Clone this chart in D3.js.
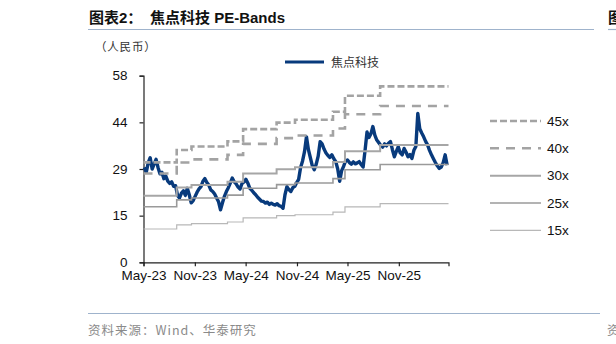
<!DOCTYPE html>
<html><head><meta charset="utf-8">
<script src="https://cdn.jsdelivr.net/npm/d3@7"></script>
<style>body{margin:0;background:#fff} svg{display:block}</style>
</head><body><svg id="c" width="616" height="344"></svg>
<script>
// ---------- data ----------
const priceStart = "2023-05-04"; // weekly closes from this date
const priceValues = [
29.5,28.0,31.0,32.5,29.0,30.5,32.0,29.5,27.5,28.0,26.0,26.8,25.2,24.5,25.0,23.6,23.8,20.8,20.0,21.5,
22.2,20.8,23.0,21.0,18.5,19.2,20.5,21.8,22.8,23.5,25.2,26.0,24.8,24.0,22.5,22.0,21.2,20.0,18.8,16.3,
18.5,20.5,22.0,23.2,24.6,26.2,25.0,24.4,23.4,22.8,24.5,25.0,25.8,24.6,23.0,22.4,21.6,21.0,20.2,19.6,
19.0,18.9,18.4,18.7,18.0,18.4,18.0,17.8,18.2,17.6,17.4,16.8,21.0,23.5,22.6,22.0,23.2,23.6,24.8,25.8,
29.5,31.5,34.4,39.0,35.0,32.5,30.0,28.8,30.5,33.0,37.5,36.8,35.2,34.0,33.2,32.6,33.4,32.2,31.3,29.0,
25.2,28.5,29.8,31.5,31.8,31.0,30.5,31.2,30.6,30.9,31.3,30.4,29.6,34.8,40.5,38.8,40.0,42.2,39.5,38.0,
37.2,36.4,35.8,36.8,36.2,37.0,37.5,35.0,32.8,34.5,35.9,34.0,33.4,35.4,34.2,32.8,33.5,32.3,34.8,36.0,
46.3,41.5,40.2,39.0,37.6,36.5,34.8,33.4,32.2,31.0,30.0,29.2,29.6,31.0,33.4,30.2
];
const bandStarts = ["2023-05-01","2023-08-28","2023-10-20","2024-02-26","2024-04-22","2024-08-20","2024-10-25","2025-03-10","2025-04-22","2025-08-26"];
const bandEnd = "2026-04-28";
const band45 = [31.05,34.92,36.0,37.58,41.4,43.43,44.33,46.8,51.75,54.68];
const band40 = [27.6,31.04,32.0,33.4,36.8,38.6,39.4,41.6,46.0,48.6];
const band30 = [20.7,23.28,24.0,25.05,27.6,28.95,29.55,31.2,34.5,36.45];
const band25 = [17.25,19.4,20.0,20.88,23.0,24.13,24.63,26.0,28.75,30.38];
const band15 = [10.35,11.64,12.0,12.53,13.8,14.48,14.78,15.6,17.25,18.23];
const bandLabels = ["45x","40x","30x","25x","15x"];
const seriesName = "焦点科技";
const yTicks = [0,14.5,29,43.5,58];
const yTickLabels = ["0","15","29","44","58"];
const xTickDates = ["2023-05-01","2023-11-01","2024-05-01","2024-11-01","2025-05-01","2025-11-01"];
const xTickLabels = ["May-23","Nov-23","May-24","Nov-24","May-25","Nov-25"];

// ---------- drawing ----------
const parse = d3.timeParse("%Y-%m-%d");
const svg = d3.select("#c");
const FONT = "'Liberation Sans', Arial, 'Noto Sans CJK SC', sans-serif";
const CJK = "'Noto Sans CJK SC', sans-serif";

const x = d3.scaleTime().domain([parse("2023-05-01"), parse(bandEnd)]).range([143.5, 448.5]);
const y = d3.scaleLinear().domain([0, 58]).range([262.3, 75.7]);

// title
const t = svg.append("text").attr("y", 23).attr("font-family", FONT).attr("font-weight", "bold").attr("font-size", 15).attr("fill", "#111");
t.append("tspan").attr("x", 89).text("图表2：");
t.append("tspan").attr("x", 150).text("焦点科技 PE-Bands");
svg.append("line").attr("x1", 88).attr("x2", 594).attr("y1", 29.5).attr("y2", 29.5).attr("stroke", "#9fb3cc").attr("stroke-width", 1.2);
// neighbouring page fragments at right edge
svg.append("text").attr("x", 608).attr("y", 23).attr("font-family", CJK).attr("font-weight", "bold").attr("font-size", 15).attr("fill", "#111").text("图");
svg.append("line").attr("x1", 608).attr("x2", 616).attr("y1", 29.5).attr("y2", 29.5).attr("stroke", "#9fb3cc").attr("stroke-width", 1.2);

svg.append("text").attr("x", 95).attr("y", 51).attr("font-family", CJK).attr("font-size", 11.5).attr("letter-spacing", 0.8).attr("fill", "#333").text("（人民币）");

// axes
const gy = svg.append("g").attr("transform", "translate(143.5,0)")
  .call(d3.axisLeft(y).tickValues(yTicks).tickFormat((d, i) => yTickLabels[i]).tickSize(4).tickPadding(12));
const gx = svg.append("g").attr("transform", "translate(0,262.3)")
  .call(d3.axisBottom(x).tickValues(xTickDates.map(parse)).tickFormat((d, i) => xTickLabels[i]).tickSize(4).tickPadding(4));
[gx, gy].forEach(g => {
  g.select(".domain").attr("stroke", "#222").attr("stroke-width", 1.2);
  g.selectAll(".tick line").attr("stroke", "#222").attr("stroke-width", 1.2);
  g.selectAll("text").attr("font-family", FONT).attr("font-size", 13.5).attr("fill", "#111");
});
gy.selectAll("text").attr("dy", "0.3em");

// price line
const priceDates = priceValues.map((v, i) => d3.timeDay.offset(parse(priceStart), 7 * i));
const priceLine = d3.line().x((d, i) => x(priceDates[i])).y(d => y(d));
svg.append("path").datum(priceValues).attr("d", priceLine).attr("fill", "none")
  .attr("stroke", "#083a7c").attr("stroke-width", 3.4).attr("stroke-linejoin", "round");

// bands
const bands = [
  {vals: band45, color: "#a3a3a3", w: 2.6, dash: "7,3"},
  {vals: band40, color: "#a3a3a3", w: 2.6, dash: "9,7"},
  {vals: band30, color: "#a6a6a6", w: 2.0, dash: null},
  {vals: band25, color: "#9a9a9a", w: 1.6, dash: null},
  {vals: band15, color: "#b8b8b8", w: 1.2, dash: null}
];
const stepLine = d3.line().x(d => x(d[0])).y(d => y(d[1])).curve(d3.curveStepAfter);
bands.forEach(b => {
  const pts = b.vals.map((v, i) => [parse(bandStarts[i]), v]);
  pts.push([parse(bandEnd), b.vals[b.vals.length - 1]]);
  svg.append("path").datum(pts).attr("d", stepLine).attr("fill", "none")
    .attr("stroke", b.color).attr("stroke-width", b.w).attr("stroke-dasharray", b.dash);
});

// legend: price
svg.append("line").attr("x1", 285).attr("x2", 324).attr("y1", 62).attr("y2", 62).attr("stroke", "#083a7c").attr("stroke-width", 3);
svg.append("text").attr("x", 331).attr("y", 66.5).attr("font-family", CJK).attr("font-size", 12).attr("fill", "#333").text(seriesName);

// legend: bands
const legY = [121, 148.3, 175.7, 203, 230.3];
bands.forEach((b, i) => {
  svg.append("line").attr("x1", 490).attr("x2", 541).attr("y1", legY[i]).attr("y2", legY[i])
    .attr("stroke", b.color).attr("stroke-width", b.w).attr("stroke-dasharray", b.dash);
  svg.append("text").attr("x", 547).attr("y", legY[i] + 4.7).attr("font-family", FONT).attr("font-size", 13.5).attr("fill", "#111").text(bandLabels[i]);
});

// footer
svg.append("line").attr("x1", 88).attr("x2", 600).attr("y1", 313.5).attr("y2", 313.5).attr("stroke", "#9fb3cc").attr("stroke-width", 1.2);
svg.append("text").attr("x", 88).attr("y", 335).attr("font-family", CJK).attr("font-size", 12.5).attr("letter-spacing", 1).attr("fill", "#8a8a8a").text("资料来源：Wind、华泰研究");
svg.append("text").attr("x", 607).attr("y", 335).attr("font-family", CJK).attr("font-size", 12.5).attr("fill", "#8a8a8a").text("资");
</script></body></html>
